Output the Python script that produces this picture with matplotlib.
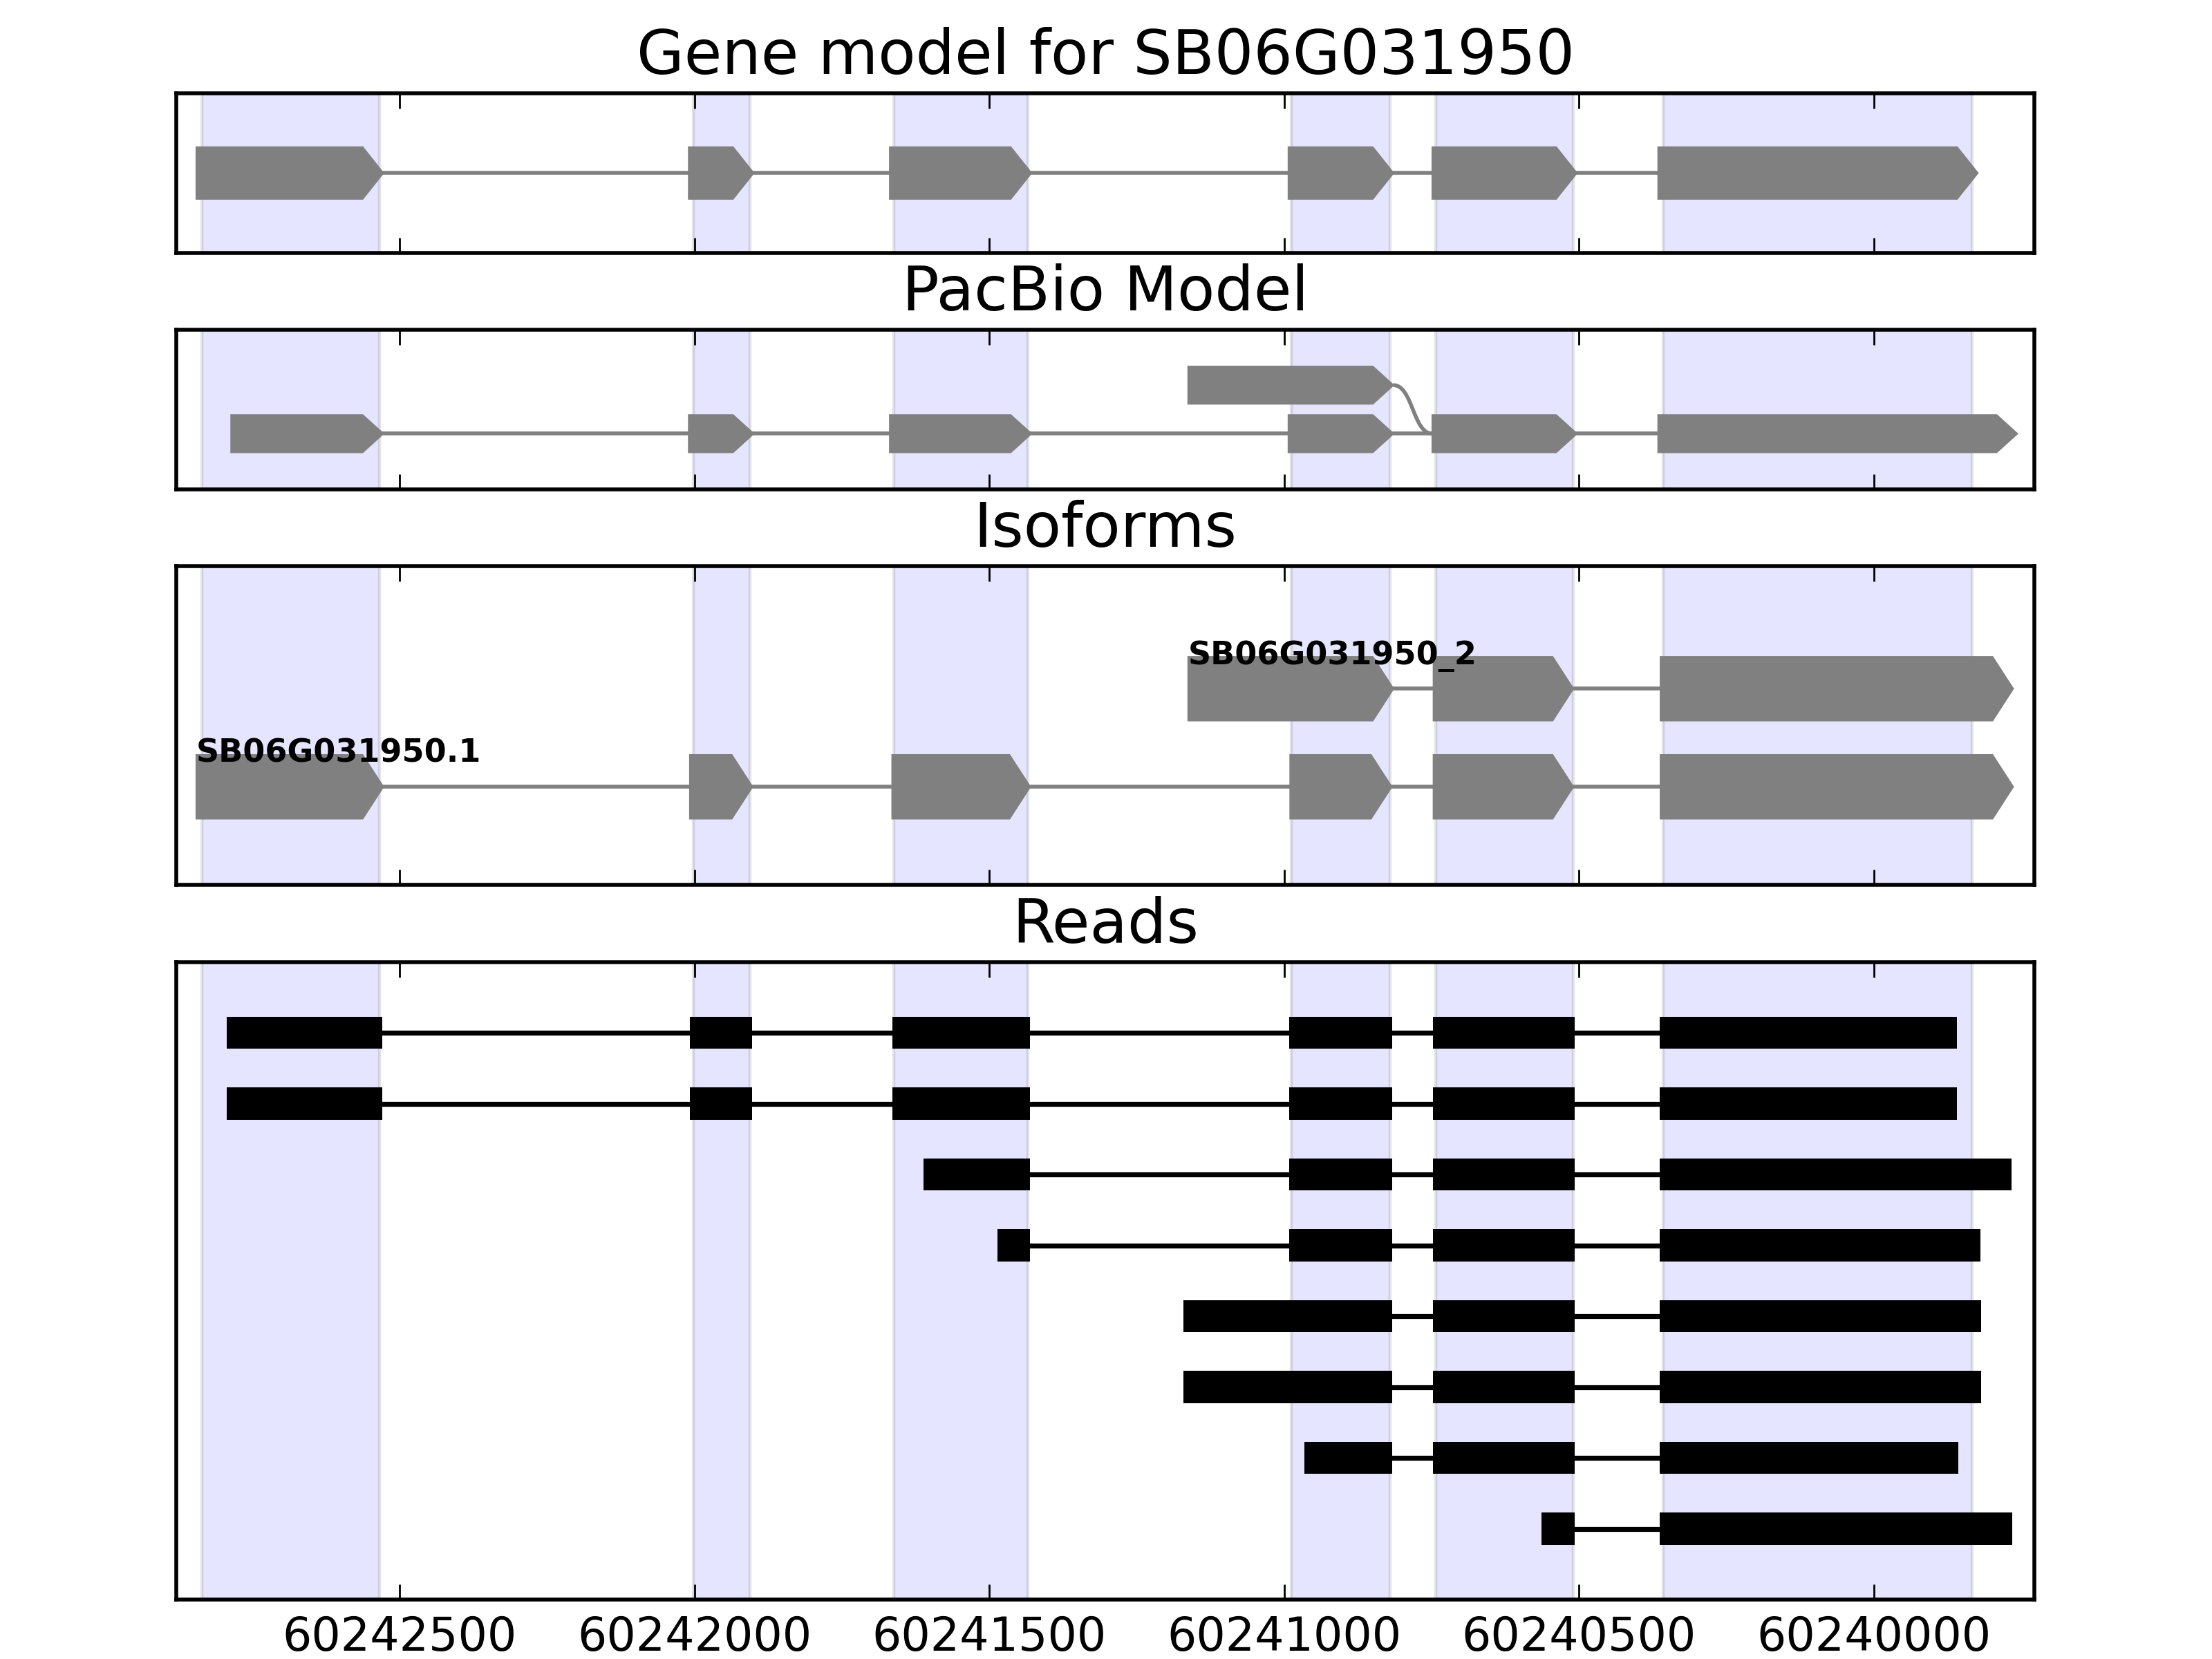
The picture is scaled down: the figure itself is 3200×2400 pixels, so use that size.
import matplotlib
matplotlib.use('Agg')
import matplotlib.pyplot as plt
from matplotlib.patches import Polygon, Rectangle, PathPatch
from matplotlib.path import Path

# gene / panel text
gene_name = 'SB06G031950'
panel_titles = ['Gene model for ' + gene_name, 'PacBio Model', 'Isoforms', 'Reads']

# exon regions shaded in every panel (minus strand: start > end)
shade_exons = [(60242836, 60242534), (60242002, 60241906), (60241662, 60241435),
               (60240988, 60240820), (60240743, 60240510), (60240358, 60239834)]

# gene model
gene_exons = [(60242845, 60242528), (60242010, 60241900), (60241669, 60241429),
              (60240993, 60240815), (60240749, 60240504), (60240366, 60239824)]

# pacbio model: lower full model, upper alternative first exon joining lower exon 5
pacbio_lower = [(60242786, 60242528), (60242010, 60241900), (60241669, 60241429),
                (60240993, 60240815), (60240749, 60240504), (60240366, 60239757)]
pacbio_upper = [(60241163, 60240815)]
pacbio_join = 4   # index of lower exon the upper model joins

# isoforms (bottom row first)
iso_names = ['SB06G031950.1', 'SB06G031950_2']
iso_exons = [
    [(60242845, 60242528), (60242008, 60241902), (60241665, 60241431),
     (60240990, 60240818), (60240747, 60240510), (60240362, 60239764)],
    [(60241163, 60240815), (60240747, 60240510), (60240362, 60239764)],
]

# reads (top row first)
reads = [
    [(60242794, 60242530), (60242008, 60241902), (60241665, 60241431), (60240992, 60240817), (60240748, 60240508), (60240363, 60239859)],
    [(60242794, 60242530), (60242008, 60241902), (60241665, 60241431), (60240992, 60240817), (60240748, 60240508), (60240363, 60239859)],
    [(60241612, 60241431), (60240992, 60240817), (60240748, 60240508), (60240363, 60239767)],
    [(60241487, 60241431), (60240992, 60240817), (60240748, 60240508), (60240363, 60239819)],
    [(60241171, 60240817), (60240748, 60240508), (60240363, 60239818)],
    [(60241171, 60240817), (60240748, 60240508), (60240363, 60239818)],
    [(60240966, 60240817), (60240748, 60240508), (60240363, 60239857)],
    [(60240564, 60240508), (60240363, 60239765)],
]

x_left, x_right = 60242879, 60239728
xticks = [60242500, 60242000, 60241500, 60241000, 60240500, 60240000]

plt.rcParams['font.size'] = 12
plt.rcParams['axes.linewidth'] = 1.0
plt.rcParams['axes.titlesize'] = 16
plt.rcParams['axes.titlepad'] = 5
plt.rcParams['xtick.direction'] = 'in'
plt.rcParams['xtick.top'] = True
plt.rcParams['xtick.major.size'] = 4
plt.rcParams['xtick.major.width'] = 0.5
plt.rcParams['xtick.major.pad'] = 4

HEAD = 35  # arrow head length in bp


def draw_arrow(ax, start, end, y, h, color='gray'):
    neck = end + HEAD if start - end > HEAD else start
    pts = [(start, y - h / 2), (start, y + h / 2), (neck, y + h / 2), (end, y), (neck, y - h / 2)]
    ax.add_patch(Polygon(pts, closed=True, fc=color, ec=color, lw=0.4, zorder=3))


def draw_model(ax, exons, y, h):
    for i, (s, e) in enumerate(exons):
        draw_arrow(ax, s, e, y, h)
        if i > 0:
            ax.plot([exons[i - 1][1], s], [y, y], color='gray', lw=1.0, zorder=2)


fig = plt.figure(figsize=(8, 6), dpi=400)
gs = fig.add_gridspec(4, 1, height_ratios=[1, 1, 2, 4], hspace=0.2414,
                      left=0.0797, right=0.9197, top=0.94375, bottom=0.03583)
axes = [fig.add_subplot(gs[i]) for i in range(4)]

for ax, title in zip(axes, panel_titles):
    for s, e in shade_exons:
        ax.axvspan(s, e, fc='blue', ec='black', alpha=0.1, lw=0.8, zorder=0)
    ax.set_xlim(x_left, x_right)
    ax.set_xticks(xticks)
    ax.set_yticks([])
    ax.set_title(title)

# gene model
ax = axes[0]
draw_model(ax, gene_exons, 0, 0.65)
ax.set_ylim(-1, 1)

# pacbio
ax = axes[1]
draw_model(ax, pacbio_lower, 0, 0.77)
draw_model(ax, pacbio_upper, 1, 0.77)
x1, x2 = pacbio_upper[-1][1], pacbio_lower[pacbio_join][0]
xm = (x1 + x2) / 2
verts = [(x1, 1), (xm, 1), (xm, 0), (x2, 0)]
ax.add_patch(PathPatch(Path(verts, [Path.MOVETO, Path.CURVE4, Path.CURVE4, Path.CURVE4]),
                       fc='none', ec='gray', lw=1.0, zorder=2))
ax.set_ylim(-1.143, 2.143)

# isoforms
ax = axes[2]
for row, (name, exons) in enumerate(zip(iso_names, iso_exons)):
    draw_model(ax, exons, row, 0.65)
    ax.text(exons[0][0], row + 0.25, name, fontsize=8.3, fontweight='bold',
            ha='left', va='baseline', zorder=5)
ax.set_ylim(-1, 2.25)

# reads
ax = axes[3]
for row, blocks in enumerate(reads):
    for i, (s, e) in enumerate(blocks):
        ax.add_patch(Rectangle((e, row - 0.225), s - e, 0.45, fc='black', lw=0, zorder=3))
        if i > 0:
            ax.plot([blocks[i - 1][1], s], [row, row], color='black', lw=1.3, zorder=2)
ax.set_ylim(len(reads), -1)

for ax in axes[:-1]:
    ax.tick_params(labelbottom=False)
axes[-1].set_xticklabels([str(t) for t in xticks])

fig.savefig('out.png', dpi=400)
